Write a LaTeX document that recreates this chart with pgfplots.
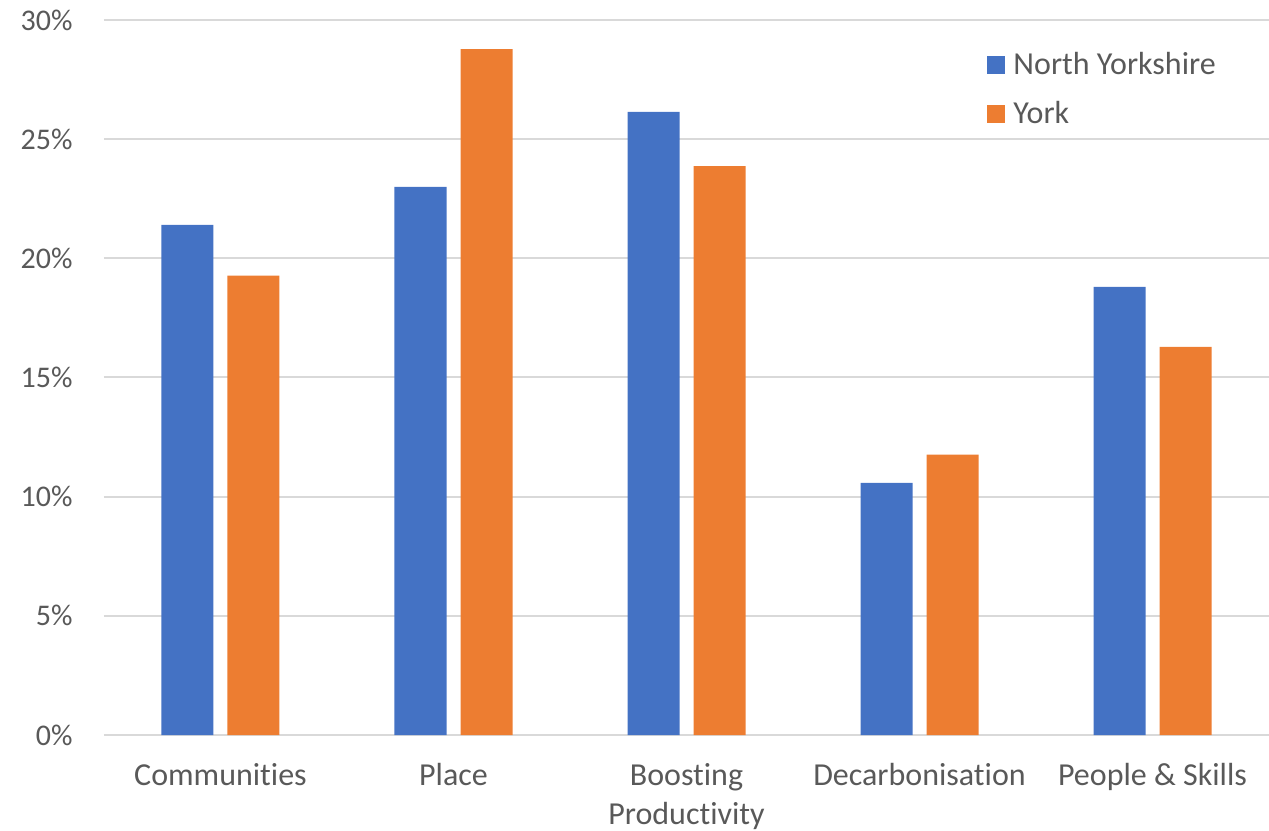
\documentclass[border=0pt]{standalone}
\usepackage{pgfplots}
\pgfplotsset{compat=1.18}
\usepackage{fontspec}
\setmainfont{Carlito}[Ligatures=NoCommon]
\definecolor{nyblue}{HTML}{4472C4}
\definecolor{yorkorange}{HTML}{ED7D31}
\definecolor{gridgrey}{HTML}{D9D9D9}
\definecolor{labelgrey}{HTML}{595959}
\begin{document}
\begin{tikzpicture}[font=\fontsize{15pt}{19.5pt}\selectfont]
\begin{axis}[
  name=ax,
  scale only axis,
  width=582.5pt, height=357.5pt,
  ybar=7pt, bar width=26pt,
  xmin=-0.5, xmax=4.5,
  ymin=0, ymax=30,
  xtick=data,
  xticklabels={Communities, Place, {Boosting\\Productivity}, Decarbonisation, {People \& Skills}},
  ytick={0,5,10,15,20,25,30},
  yticklabel={\pgfmathprintnumber{\tick}\%},
  /pgf/number format/assume math mode=true,
  ymajorgrids, grid style={gridgrey, line width=1pt},
  major tick length=0pt,
  axis line style={draw=none},
  axis x line*=bottom,
  x axis line style={gridgrey, line width=1pt},
  separate axis lines,
  tick label style={labelgrey},
  yticklabel style={anchor=east, inner sep=0pt, xshift=-15.5pt},
  xticklabel style={anchor=north, inner sep=0pt, yshift=-14pt, align=center,
    font=\fontsize{16pt}{19.5pt}\selectfont},
  legend style={at={(rel axis cs:0.758,0.961)}, anchor=north west, draw=none, fill=none, inner sep=0pt,
    row sep=8pt, text=labelgrey, font=\fontsize{16pt}{19.5pt}\selectfont,
    legend cell align=left, nodes={inner xsep=4pt, inner ysep=2pt}},
  legend image code/.code={\fill[#1] (0pt,-4.5pt) rectangle (9pt,4.5pt);},
]
\addplot[fill=nyblue, draw=none] coordinates {(0,21.4) (1,23.0) (2,26.15) (3,10.58) (4,18.8)};
\addplot[fill=yorkorange, draw=none] coordinates {(0,19.27) (1,28.78) (2,23.87) (3,11.76) (4,16.28)};
\legend{North Yorkshire, York}
\end{axis}
\pgfresetboundingbox
\path ([xshift=-52pt,yshift=-47.5pt]ax.south west) ([yshift=10pt]ax.north east);
\end{tikzpicture}
\end{document}
